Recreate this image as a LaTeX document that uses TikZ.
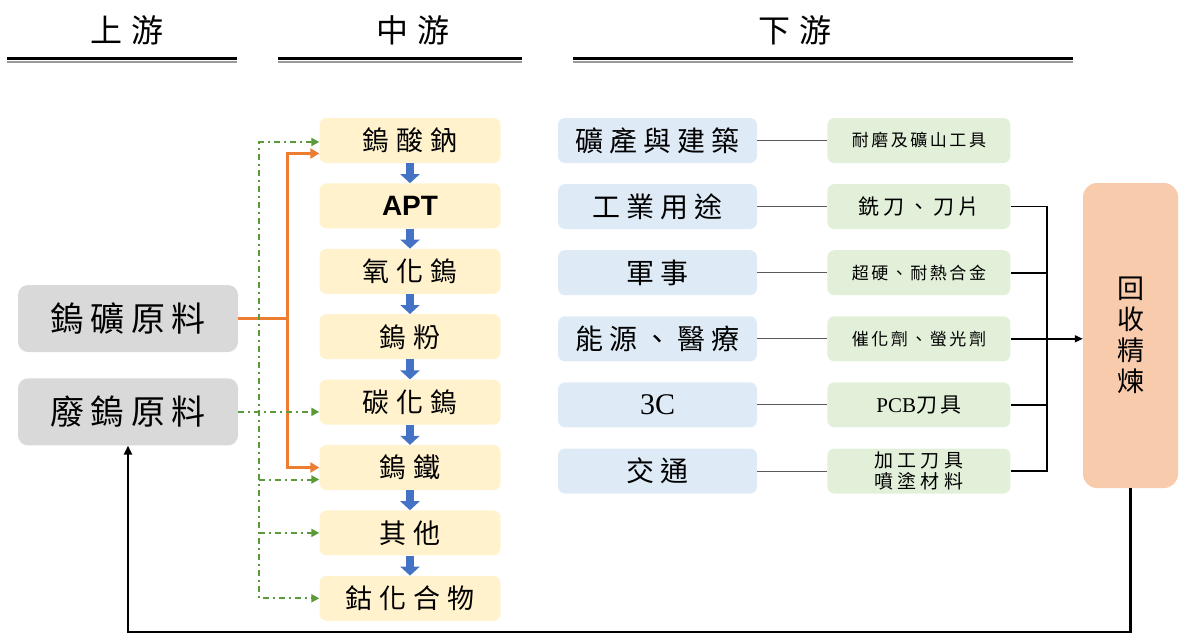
\documentclass[tikz,border=0pt]{standalone}
\usepackage{fontspec}
\newfontfamily\cjk{Noto Sans CJK TC}
\newfontfamily\latsans{Liberation Sans}
\newfontfamily\latserif{Liberation Serif}
\usepackage{xcolor}
\usepackage{tikz}
\usetikzlibrary{arrows.meta,positioning,calc}

\definecolor{rawgray}{HTML}{D9D9D9}
\definecolor{midyellow}{HTML}{FFF2CC}
\definecolor{appblue}{HTML}{DEEBF7}
\definecolor{prodgreen}{HTML}{E2F0D9}
\definecolor{recsalmon}{HTML}{F8CBAD}
\definecolor{oreorange}{HTML}{ED7D31}
\definecolor{scrapgreen}{HTML}{5A9A38}
\definecolor{flowblue}{HTML}{4472C4}

\begin{document}
\begin{tikzpicture}[x=1pt, y=-1pt,
  head/.style={font=\cjk\addfontfeatures{LetterSpace=30}\fontsize{32}{36}\selectfont},
  raw/.style={fill=rawgray, rounded corners=10pt, minimum width=220pt, minimum height=67pt, inner sep=0pt, font=\cjk\addfontfeatures{LetterSpace=18}\fontsize{34}{38}\selectfont},
  mid/.style={fill=midyellow, rounded corners=7pt, minimum width=181pt, minimum height=45pt, inner sep=0pt, font=\cjk\addfontfeatures{LetterSpace=25}\fontsize{27}{30}\selectfont},
  app/.style={fill=appblue, rounded corners=7pt, minimum width=199pt, minimum height=45pt, inner sep=0pt, font=\cjk\addfontfeatures{LetterSpace=22}\fontsize{28}{32}\selectfont},
  prod/.style={fill=prodgreen, rounded corners=7pt, minimum width=183pt, minimum height=45pt, inner sep=0pt, align=center, font=\cjk\addfontfeatures{LetterSpace=15}\fontsize{17}{20}\selectfont},
  rec/.style={fill=recsalmon, rounded corners=14pt, minimum width=95pt, minimum height=305pt, inner sep=0pt, align=center, font=\cjk\fontsize{27}{31}\selectfont},
  down/.style={-{Triangle[width=19pt,length=9pt]}, line width=8pt, draw=flowblue},
  ore/.style={{Triangle[width=10pt,length=9pt]}-{Triangle[width=10pt,length=9pt]}, line width=2.5pt, draw=oreorange},
  scrap/.style={-{Triangle[width=8pt,length=8pt]}, line width=2pt, draw=scrapgreen, dash pattern=on 6pt off 4pt on 2pt off 4pt},
  thin/.style={draw=black!65, line width=0.9pt},
  blk/.style={draw=black, line width=1.6pt},
  ret/.style={-{Triangle[width=8pt,length=9pt]}, draw=black, line width=2.5pt}
]
\useasboundingbox (0,0) rectangle (1181,635);

% headers
\node[head] (h1) at (127,30) {上游};
\node[head] (h2) at (413,30) {中游};
\node[head] (h3) at (795,30) {下游};
\draw[line width=3pt] (7,58.5) -- (237,58.5);
\draw[black!40, line width=1.5pt] (7,62) -- (237,62);
\draw[line width=3pt] (278,58.5) -- (522,58.5);
\draw[black!40, line width=1.5pt] (278,62) -- (522,62);
\draw[line width=3pt] (573,58.5) -- (1073,58.5);
\draw[black!40, line width=1.5pt] (573,62) -- (1073,62);

% upstream
\node[raw] (o) at (128,318.5) {鎢礦原料};
\node[raw, below=26pt of o] (s) {廢鎢原料};

% midstream
\node[mid] (m1) at (410,140.5) {鎢酸鈉};
\node[mid, below=20pt of m1] (m2) {\latsans\bfseries\fontsize{28}{32}\selectfont APT};
\node[mid, below=20pt of m2] (m3) {氧化鎢};
\node[mid, below=20pt of m3] (m4) {鎢粉};
\node[mid, below=20pt of m4] (m5) {碳化鎢};
\node[mid, below=20pt of m5] (m6) {鎢鐵};
\node[mid, below=20pt of m6] (m7) {其他};
\node[mid, below=20pt of m7] (m8) {鈷化合物};

\draw[down] (m1) -- (m2);
\draw[down] (m2) -- (m3);
\draw[down] (m3) -- (m4);
\draw[down] (m4) -- (m5);
\draw[down] (m5) -- (m6);
\draw[down] (m6) -- (m7);
\draw[down] (m7) -- (m8);

% downstream
\node[app] (d1) at (657.5,140.5) {礦產與建築};
\node[app, below=20.7pt of d1] (d2) {工業用途};
\node[app, below=20.7pt of d2] (d3) {軍事};
\node[app, below=20.7pt of d3] (d4) {能源、醫療};
\node[app, below=20.7pt of d4] (d5) {\latserif\fontsize{30}{34}\selectfont 3C};
\node[app, below=20.7pt of d5] (d6) {交通};

\node[prod, right=70pt of d1] (p1) {耐磨及礦山工具};
\node[prod, right=70pt of d2, font=\cjk\addfontfeatures{LetterSpace=20}\fontsize{21}{24}\selectfont] (p2) {銑刀、刀片};
\node[prod, right=70pt of d3] (p3) {超硬、耐熱合金};
\node[prod, right=70pt of d4] (p4) {催化劑、螢光劑};
\node[prod, right=70pt of d5, font=\cjk\addfontfeatures{LetterSpace=15}\fontsize{21}{24}\selectfont] (p5) {{\latserif PCB}刀具};
\node[prod, right=70pt of d6, font=\cjk\addfontfeatures{LetterSpace=22}\fontsize{19}{21}\selectfont] (p6) {加工刀具\\噴塗材料};

\draw[thin] (d1) -- (p1);
\draw[thin] (d2) -- (p2);
\draw[thin] (d3) -- (p3);
\draw[thin] (d4) -- (p4);
\draw[thin] (d5) -- (p5);
\draw[thin] (d6) -- (p6);

\node[rec] (r) at (1130.5,335.5) {回\\收\\精\\煉};

% ore route
\coordinate (ot) at ($(m1.west)+(-32,13)$);
\draw[oreorange, line width=2.5pt] (o.east) -- (o.east -| ot);
\draw[ore] (ot -| m1.west) -- (ot) -- (ot |- m6.west) -- (m6.west);

% scrap route
\coordinate (gt) at ($(m1.west)+(-60,1.5)$);
\coordinate (g6) at ($(m6.west)+(0,12)$);
\draw[scrap, {Triangle[width=8pt,length=8pt]}-{Triangle[width=8pt,length=8pt]}] (gt -| m1.west) -- (gt) -- (gt |- m8.west) -- (m8.west);
\draw[scrap] (s.east) -- (s.east -| m5.west);
\draw[scrap] (gt |- g6) -- (g6);
\draw[scrap] (gt |- m7.west) -- (m7.west);

% recycling
\coordinate (rj) at (1047,0);
\draw[blk] (p2.east) -- (p2.east -| rj) -- (p6.east -| rj) -- (p6.east);
\draw[blk] (p3.east) -- (p3.east -| rj);
\draw[blk] (p5.east) -- (p5.east -| rj);
\draw[blk, -{Triangle[width=7pt,length=8pt]}] (p4.east) -- (p4.east -| r.west);
\coordinate (rb) at (0,632);
\draw[ret] (r.south) -- (r.south |- rb) -| (s.south);
\end{tikzpicture}
\end{document}
